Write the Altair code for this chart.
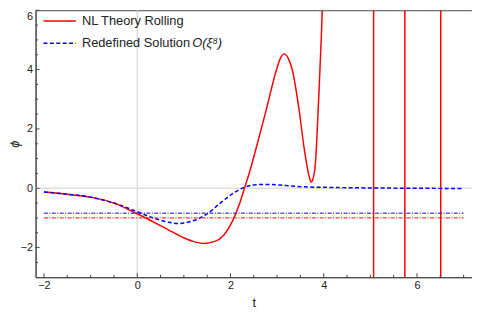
import altair as alt
import pandas as pd

# ---- data ----
red_t = [-2, -1.5, -1, -0.5, 0, 0.5, 0.86, 1.07, 1.2, 1.43, 1.65, 1.85, 2.06, 2.2, 2.31, 2.4, 2.55, 2.77,
         2.98, 3.07, 3.15, 3.24, 3.33, 3.47, 3.58, 3.68, 3.73, 3.77, 3.82, 3.89, 3.95, 3.98]
red_phi = [-0.13, -0.2, -0.30, -0.50, -0.86, -1.26, -1.56, -1.72, -1.79, -1.86, -1.8, -1.59, -1.05,
           -0.5, 0.05, 0.5, 1.35, 2.66, 3.96, 4.38, 4.53, 4.38, 3.96, 2.66, 1.35, 0.45, 0.21, 0.32,
           0.81, 2.98, 5.16, 6.6]

blue_t = [-2, -1.5, -1, -0.5, 0, 0.3, 0.6, 0.9, 1.1, 1.28, 1.53, 1.78, 2.06, 2.31, 2.55, 2.77,
          3.19, 3.68, 4.04, 5, 6, 7]
blue_phi = [-0.13, -0.2, -0.30, -0.50, -0.79, -0.98, -1.12, -1.19, -1.14, -1.05, -0.83, -0.50,
            -0.17, 0.04, 0.12, 0.13, 0.09, 0.04, 0.03, 0.01, 0.0, -0.01]

spike_t = [5.07, 5.74, 6.51]            # red curve blow-ups (vertical lines)
level_phi = [-1.0, -0.84]               # dash-dot reference levels
level_color = ["#ff0000", "#0000ff"]
level_t = [-2, 7]

x_major = [-2, 0, 2, 4, 6]
x_minor = [-1.5, -1, -0.5, 0.5, 1, 1.5, 2.5, 3, 3.5, 4.5, 5, 5.5, 6.5, 7]
y_major = [-2, 0, 2, 4, 6]
y_minor = [-2.5, -1.5, -1, -0.5, 0.5, 1, 1.5, 2.5, 3, 3.5, 4.5, 5, 5.5]

legend_labels = ["NL Theory Rolling", "Redefined Solution"]
legend_math = "O(ξ⁸)"

# ---- chart ----
W, H = 443, 271
FONT = "Liberation Sans"
FRAME = "#444444"
xs = alt.Scale(domain=[-2.18, 7.18], nice=False, zero=False)
ys = alt.Scale(domain=[-3, 6], nice=False, zero=False)

x_axis = alt.Axis(values=x_major, ticks=False, grid=False, domainColor=FRAME, labelFont=FONT,
                  labelFontSize=11, labelColor="#222", labelPadding=2, title="t", titleFont=FONT,
                  titleFontSize=13, titleFontWeight="normal", titleColor="#222", titlePadding=7)
y_axis = alt.Axis(values=y_major, ticks=False, grid=False, domainColor=FRAME, labelFont=FONT,
                  labelFontSize=11, labelColor="#222", labelPadding=3, labelFlush=True,
                  title="ϕ", titleFont=FONT,
                  titleFontSize=13, titleFontWeight="normal", titleFontStyle="italic",
                  titleColor="#222", titleX=-21, titleBaseline="middle")


def X(f):
    return alt.X(f, scale=xs, axis=x_axis)


def Y(f):
    return alt.Y(f, scale=ys, axis=y_axis)


red_df = pd.DataFrame({"t": red_t, "phi": red_phi})
blue_df = pd.DataFrame({"t": blue_t, "phi": blue_phi})
spike_df = pd.DataFrame({"t": spike_t, "lo": [-3.5] * len(spike_t), "hi": [6.5] * len(spike_t)})
level_df = pd.DataFrame({"t0": [level_t[0]] * 2, "t1": [level_t[1]] * 2,
                         "phi": level_phi, "c": level_color})

# origin grid lines
gx = alt.Chart(pd.DataFrame({"t": [0]})).mark_rule(color="#cccccc", strokeWidth=1).encode(
    x=X("t:Q"), y=alt.value(0), y2=alt.value(H))
gy = alt.Chart(pd.DataFrame({"phi": [0]})).mark_rule(color="#dddddd", strokeWidth=1.5).encode(
    y=Y("phi:Q"), x=alt.value(0), x2=alt.value(W))

red_line = alt.Chart(red_df).mark_line(color="#ff0000", strokeWidth=1.5, clip=True,
                                       interpolate="monotone").encode(x=X("t:Q"), y=Y("phi:Q"))
spikes = alt.Chart(spike_df).mark_rule(color="#ff0000", strokeWidth=1.5, clip=True).encode(
    x=X("t:Q"), y=Y("lo:Q"), y2="hi:Q")
blue_line = alt.Chart(blue_df).mark_line(color="#0000ff", strokeWidth=1.5, strokeDash=[4, 2.5],
                                         clip=True, interpolate="monotone").encode(
    x=X("t:Q"), y=Y("phi:Q"))
levels = alt.Chart(level_df).mark_rule(strokeWidth=1, strokeDash=[4, 1.5, 1, 1.5]).encode(
    x=X("t0:Q"), x2="t1:Q", y=Y("phi:Q"),
    color=alt.Color("c:N", scale=None, legend=None))


# inward frame ticks
def xticks(vals, L):
    return alt.Chart(pd.DataFrame({"t": vals})).mark_rule(color=FRAME, strokeWidth=1).encode(
        x=X("t:Q"), y=alt.value(H), y2=alt.value(H - L))


def yticks(vals, L):
    return alt.Chart(pd.DataFrame({"phi": vals})).mark_rule(color=FRAME, strokeWidth=1).encode(
        y=Y("phi:Q"), x=alt.value(0), x2=alt.value(L))


# legend (inside, top-left)
leg_red = alt.Chart(pd.DataFrame({"a": [0]})).mark_rule(color="#ff0000", strokeWidth=1.5).encode(
    x=alt.value(8), x2=alt.value(41), y=alt.value(11))
leg_blue = alt.Chart(pd.DataFrame({"a": [0]})).mark_rule(color="#0000ff", strokeWidth=1.5,
                                                         strokeDash=[4, 2.5]).encode(
    x=alt.value(8), x2=alt.value(41), y=alt.value(33.5))
leg_txt = alt.Chart(pd.DataFrame({"label": legend_labels, "yy": [11, 33.5]})).mark_text(
    align="left", baseline="middle", font=FONT, fontSize=13, color="#222").encode(
    x=alt.value(47), y=alt.Y("yy:Q", scale=None, axis=None), text="label:N")
leg_math = alt.Chart(pd.DataFrame({"label": [legend_math]})).mark_text(
    align="left", baseline="middle", font=FONT, fontSize=13, fontStyle="italic",
    color="#222").encode(x=alt.value(159), y=alt.value(33.5), text="label:N")

chart = alt.layer(
    gx, gy, red_line, spikes, blue_line, levels,
    xticks(x_major, 4), xticks(x_minor, 2.5), yticks(y_major, 4), yticks(y_minor, 2.5),
    leg_red, leg_blue, leg_txt, leg_math,
).properties(
    width=W, height=H, autosize="none",
    padding={"left": 28, "top": 0, "right": 0, "bottom": 34},
).configure_view(stroke=FRAME, strokeWidth=1)

chart.save("out.html", embed_options={"renderer": "svg", "actions": False})
